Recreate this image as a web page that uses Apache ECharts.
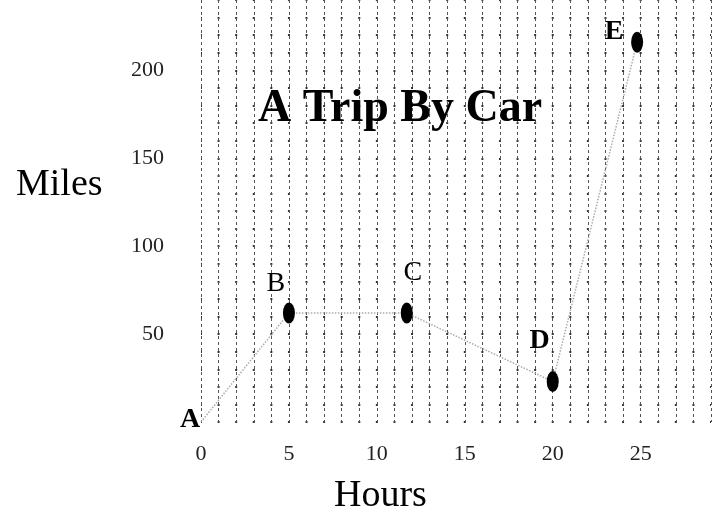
<!DOCTYPE html>
<html>
<head>
<meta charset="utf-8">
<script src="https://cdn.jsdelivr.net/npm/echarts@6/dist/echarts.min.js"></script>
<style>html,body{margin:0;padding:0;background:#fff}#c{width:721px;height:527px}</style>
</head>
<body>
<div id="c"></div>
<script>
const pointNames = ['A', 'B', 'C', 'D', 'E'];
const hours = [0, 5, 11.7, 20, 24.8];
const miles = [0, 62, 62, 23, 216];
const xTickLabels = [0, 5, 10, 15, 20, 25];
const yTickLabels = [50, 100, 150, 200];

const labelStyle = {
  A: { offset: [-11, -2], bold: true, marker: false },
  B: { offset: [-13, -29], bold: false, marker: true },
  C: { offset: [6, -40], bold: false, marker: true },
  D: { offset: [-13, -41], bold: true, marker: true },
  E: { offset: [-23, -10], bold: true, marker: true }
};

const serif = '"Liberation Serif", "DejaVu Serif", serif';
const chart = echarts.init(document.getElementById('c'));

const data = pointNames.map((n, i) => {
  const s = labelStyle[n];
  return {
    value: [hours[i], miles[i]],
    name: n,
    symbolSize: s.marker ? [12, 21] : 0,
    label: {
      show: true, position: 'inside', offset: s.offset,
      formatter: n, fontFamily: serif, fontSize: 28,
      fontWeight: s.bold ? 'bold' : 'normal', color: '#000'
    }
  };
});

chart.setOption({
  animation: false,
  backgroundColor: '#fff',
  title: {
    text: 'A Trip By Car', left: 253, top: 81,
    textStyle: { fontFamily: serif, fontSize: 46, fontWeight: 'bold', color: '#000' }
  },
  grid: { left: 201, right: 10, top: 0, bottom: 105, containLabel: false },
  xAxis: {
    type: 'value', min: 0, max: 29, interval: 1,
    axisLine: { show: false }, axisTick: { show: false },
    axisLabel: {
      margin: 21, fontFamily: serif, fontSize: 22, color: '#222',
      formatter: v => xTickLabels.includes(v) ? String(v) : ''
    },
    splitLine: { show: true, lineStyle: { color: '#555', width: 1, type: [3, 3] } }
  },
  yAxis: {
    type: 'value', min: 0, max: 240, interval: 10,
    axisLine: { show: false }, axisTick: { show: false },
    axisLabel: {
      margin: 37, fontFamily: serif, fontSize: 22, color: '#222',
      formatter: v => yTickLabels.includes(v) ? String(v) : ''
    },
    splitLine: { show: true, lineStyle: { color: '#333', width: 2, type: [2, 15.586], dashOffset: 1 } }
  },
  graphic: [
    { type: 'text', left: 16, top: 166, style: { text: 'Miles', fontFamily: serif, fontSize: 38, fill: '#000' } },
    { type: 'text', left: 334, top: 477, style: { text: 'Hours', fontFamily: serif, fontSize: 38, fill: '#000' } }
  ],
  series: [{
    type: 'line',
    data: data,
    symbol: 'circle',
    itemStyle: { color: '#000' },
    lineStyle: { color: '#aaa', width: 1.5, type: 'dotted' },
    z: 5
  }]
});
</script>
</body>
</html>
